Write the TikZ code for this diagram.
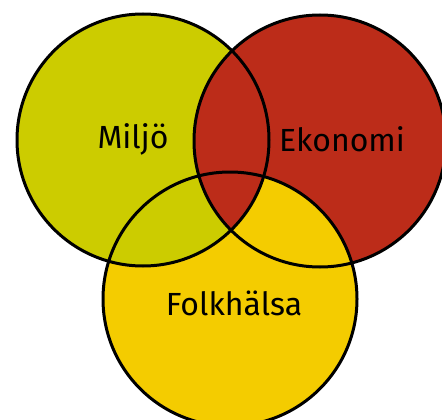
\documentclass[tikz,border=0pt]{standalone}
\usepackage{fontspec}
\setmainfont{Fira Sans}
\definecolor{miljo}{HTML}{CCCC00}
\definecolor{ekon}{HTML}{BC2C19}
\definecolor{folk}{HTML}{F4CC00}
\begin{document}
\begin{tikzpicture}[x=1pt,y=-1pt,
  ring/.style={draw=black,line width=3pt},
  lbl/.style={font=\fontsize{32}{36}\selectfont,text=black}]
\useasboundingbox (0,0) rectangle (442,420);
\coordinate (cm) at (143,140);
\coordinate (ce) at (320,141);
\coordinate (cf) at (230,299);
\fill[ekon] (ce) circle (126);
\fill[folk] (cf) circle (127);
\fill[miljo] (cm) circle (126);
\begin{scope}
  \clip (cm) circle (126);
  \fill[ekon] (ce) circle (126);
\end{scope}
\draw[ring] (cm) circle (126);
\draw[ring] (ce) circle (126);
\draw[ring] (cf) circle (127);
\node[lbl] (m) at (133,139) {Miljö};
\node[lbl] (e) at (342,139) {Ekonomi};
\node[lbl] (f) at (234,303) {Folkhälsa};
\end{tikzpicture}
\end{document}
